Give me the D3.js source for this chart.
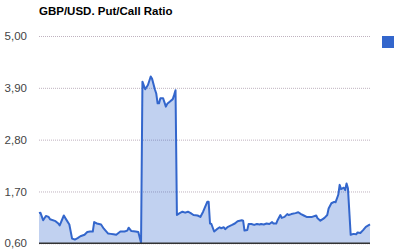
<!DOCTYPE html>
<html>
<head>
<meta charset="utf-8">
<script src="https://cdn.jsdelivr.net/npm/d3@7"></script>
<style>
  body { margin: 0; background: #fff; }
  svg { display: block; font-family: "Liberation Sans", Arial, sans-serif; }
</style>
</head>
<body>
<svg width="400" height="252"></svg>
<script>
var chartTitle = "GBP/USD. Put/Call Ratio";

// sample index (trading days) and the put/call ratio
var days = [0, 1, 3, 5, 7, 8, 12, 14, 15, 18, 19, 22, 24, 26, 28, 30, 33, 35, 37, 39,
  40, 42, 45, 47, 50, 52, 54, 56, 59, 62, 64, 65, 67, 70, 72, 74, 75, 77, 79, 81,
  82, 84, 85, 86, 87, 88, 90, 92, 93, 95, 97, 98, 99, 100, 102, 104, 106, 108, 110, 112,
  115, 117, 119, 122, 123, 124, 125, 127, 129, 131, 132, 134, 135, 137, 140, 142, 144, 147, 148, 149,
  151, 152, 154, 156, 158, 160, 161, 163, 165, 167, 169, 170, 172, 173, 175, 176, 178, 180, 181, 183,
  186, 188, 190, 192, 194, 196, 198, 201, 202, 204, 206, 207, 209, 210, 212, 214, 215, 217, 218, 219,
  221, 222, 223, 224, 226, 228, 230, 231, 233, 235, 237, 240];
var ratio = [1.24, 1.25, 1.09, 1.18, 1.16, 1.11, 1.07, 1.02, 0.98, 1.19, 1.14, 1.00, 0.70, 0.68, 0.71, 0.75, 0.78, 0.84, 0.85, 0.85,
  1.05, 1.02, 1.00, 0.91, 0.81, 0.80, 0.79, 0.78, 0.85, 0.85, 0.87, 0.93, 0.86, 0.85, 0.84, 0.61, 4.03, 3.87, 3.96, 4.14,
  4.09, 3.87, 3.78, 3.57, 3.57, 3.68, 3.68, 3.50, 3.56, 3.61, 3.66, 3.75, 3.85, 1.20, 1.24, 1.27, 1.25, 1.27, 1.24, 1.20,
  1.19, 1.16, 1.27, 1.48, 1.48, 1.02, 1.01, 0.85, 0.90, 0.94, 0.92, 0.94, 0.90, 0.95, 0.99, 1.02, 1.07, 1.09, 1.08, 0.87,
  0.88, 1.01, 1.01, 0.99, 1.01, 1.00, 1.01, 1.00, 1.02, 1.01, 1.05, 1.02, 1.02, 1.09, 1.20, 1.14, 1.16, 1.22, 1.20, 1.22,
  1.24, 1.26, 1.22, 1.19, 1.16, 1.16, 1.16, 1.19, 1.13, 1.08, 1.12, 1.14, 1.20, 1.34, 1.45, 1.48, 1.47, 1.63, 1.84, 1.75,
  1.78, 1.73, 1.87, 1.77, 0.78, 0.80, 0.79, 0.83, 0.82, 0.88, 0.95, 1.00];

var yTicks = [0.6, 1.7, 2.8, 3.9, 5.0];

var svg = d3.select("svg");

var x = d3.scaleLinear().domain([0, 240]).range([39, 370]);
var y = d3.scaleLinear().domain([0.6, 5.0]).range([243.3, 36]);

var pts = days.map(function (d, i) { return [d, ratio[i]]; });

// title
svg.append("text")
  .attr("x", 39)
  .attr("y", 15)
  .attr("font-size", "11.5px")
  .attr("font-weight", "bold")
  .attr("fill", "#000")
  .text(chartTitle);

// gridlines + labels
var yAxis = svg.append("g")
  .attr("transform", "translate(39,0)")
  .call(d3.axisLeft(y)
    .tickValues(yTicks)
    .tickSize(-331)
    .tickPadding(12)
    .tickFormat(function (d) { return d3.format(".2f")(d).replace(".", ","); }));
yAxis.select(".domain").remove();
yAxis.selectAll(".tick line")
  .attr("stroke", "#bfb2bf")
  .attr("stroke-dasharray", "1,1");
yAxis.selectAll(".tick text")
  .attr("font-size", "11.5px")
  .attr("font-family", "Liberation Sans, Arial, sans-serif")
  .attr("fill", "#444");

// area + line
svg.append("path")
  .datum(pts)
  .attr("fill", "#3366cc")
  .attr("fill-opacity", 0.3)
  .attr("d", d3.area()
    .x(function (d) { return x(d[0]); })
    .y0(y(0.6))
    .y1(function (d) { return y(d[1]); }));

svg.append("path")
  .datum(pts)
  .attr("fill", "none")
  .attr("stroke", "#3366cc")
  .attr("stroke-width", 2)
  .attr("stroke-linejoin", "round")
  .attr("d", d3.line()
    .x(function (d) { return x(d[0]); })
    .y(function (d) { return y(d[1]); }));

// baseline
svg.append("line")
  .attr("x1", 39).attr("x2", 370)
  .attr("y1", y(0.6)).attr("y2", y(0.6))
  .attr("stroke", "#333")
  .attr("stroke-width", 1.5);

// legend swatch (no label)
svg.append("rect")
  .attr("x", 382).attr("y", 36)
  .attr("width", 12).attr("height", 12)
  .attr("fill", "#3366cc");
</script>
</body>
</html>
